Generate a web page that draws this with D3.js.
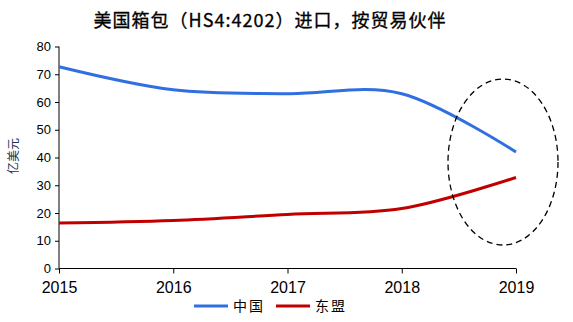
<!DOCTYPE html>
<html><head><meta charset="utf-8">
<script src="https://cdn.jsdelivr.net/npm/d3@7"></script>
<style>body{margin:0;background:#fff}svg{display:block}</style>
</head><body>
<svg id="c" width="573" height="322"></svg>
<script>
const years = [2015, 2016, 2017, 2018, 2019];
const china = [72.7, 64.4, 63.0, 63.0, 42.0];
const asean = [16.4, 17.3, 19.5, 21.6, 32.8];
const yTicks = [0, 10, 20, 30, 40, 50, 60, 70, 80];
const seriesNames = ["中国", "东盟"];
const seriesColors = ["#2f6fe0", "#c00000"];
const title = "美国箱包（HS4:4202）进口，按贸易伙伴";
const yLabel = "亿美元";

const svg = d3.select("#c");
const x = d3.scaleLinear().domain([2015, 2019]).range([59, 516]);
const y = d3.scaleLinear().domain([0, 80]).range([268.5, 46.5]);

svg.append("text").attr("x", 270).attr("y", 27).attr("text-anchor", "middle")
  .attr("font-family", "'Noto Sans CJK SC'").attr("font-size", 18).attr("fill", "#000")
  .attr("letter-spacing", 1).attr("stroke", "#000").attr("stroke-width", 0.3)
  .text(title);

const ya = svg.append("g").attr("transform", "translate(59,0)")
  .call(d3.axisLeft(y).tickValues(yTicks).tickSize(4).tickPadding(4));
ya.select(".domain").attr("stroke", "#000").attr("d", `M-0,${y(80)}V${y(0)}`);
ya.selectAll("text").attr("font-family", "'Liberation Sans', Arial").attr("font-size", 13).attr("fill", "#000");

const xa = svg.append("g").attr("transform", `translate(0,${y(0)})`)
  .call(d3.axisBottom(x).tickValues(years).tickFormat(d3.format("d")).tickSize(5).tickPadding(8));
xa.select(".domain").attr("d", `M${x(2015)},0H${x(2019)}`).attr("stroke", "#000");
xa.selectAll("text").attr("font-family", "'Liberation Sans', Arial").attr("font-size", 16).attr("fill", "#000");

svg.append("text").attr("transform", "translate(18,156) rotate(-90)").attr("text-anchor", "middle")
  .attr("font-family", "'Noto Sans CJK SC'").attr("font-size", 12).attr("fill", "#203050").text(yLabel);

const line = d3.line().x((d, i) => x(years[i])).y(d => y(d)).curve(d3.curveCardinal.tension(0));
[china, asean].forEach((s, i) => {
  svg.append("path").attr("d", line(s)).attr("fill", "none").attr("stroke", seriesColors[i]).attr("stroke-width", 3);
});

svg.append("ellipse").attr("cx", 503).attr("cy", 162).attr("rx", 55).attr("ry", 83)
  .attr("fill", "none").attr("stroke", "#000").attr("stroke-width", 1.3).attr("stroke-dasharray", "6,4");

const lg = [[194, 233], [276, 315]];
seriesNames.forEach((n, i) => {
  svg.append("line").attr("x1", lg[i][0]).attr("x2", lg[i][0] + 34).attr("y1", 306).attr("y2", 306)
    .attr("stroke", seriesColors[i]).attr("stroke-width", 3);
  svg.append("text").attr("x", lg[i][1]).attr("y", 311).attr("font-family", "'Noto Sans CJK SC'")
    .attr("font-size", 14).attr("fill", "#000").attr("letter-spacing", 2).text(n);
});
</script>
</body></html>
